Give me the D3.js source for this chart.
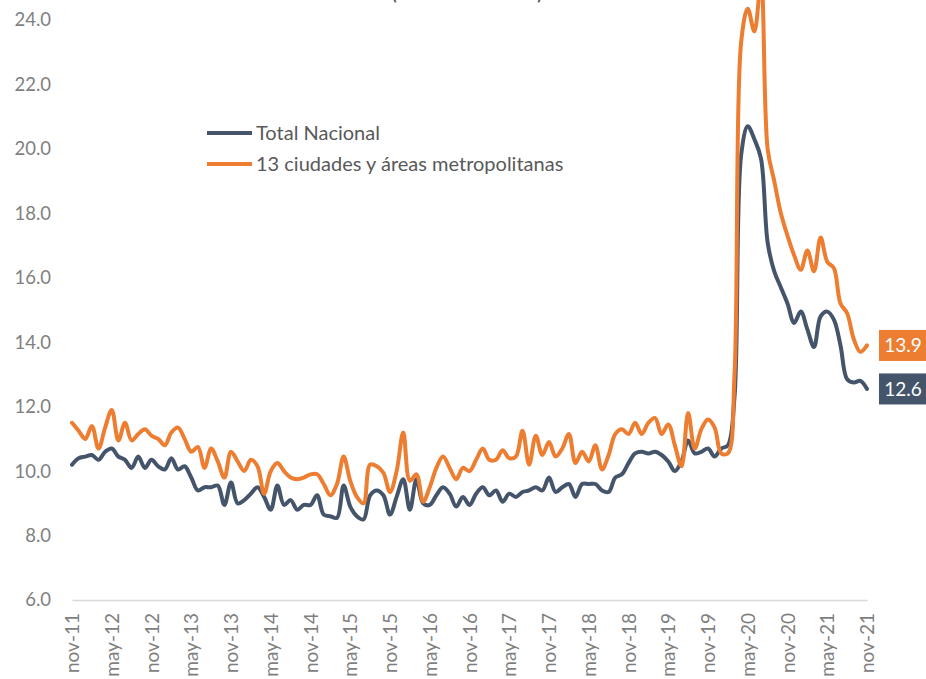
<!DOCTYPE html>
<html>
<head>
<meta charset="utf-8">
<script src="https://cdn.jsdelivr.net/npm/d3@7"></script>
<style>
  body { margin: 0; background: #fff; }
  svg { display: block; font-family: Lato, "Open Sans", sans-serif; }
</style>
</head>
<body>
<svg id="chart" width="926" height="679"></svg>
<script>
// months nov-11 .. nov-21, one label every 6 months
const tickLabels = ["nov-11","may-12","nov-12","may-13","nov-13","may-14","nov-14","may-15","nov-15","may-16",
  "nov-16","may-17","nov-17","may-18","nov-18","may-19","nov-19","may-20","nov-20","may-21","nov-21"];

const totalNacional = [
  10.2, 10.4, 10.45, 10.5, 10.35, 10.6, 10.7, 10.45, 10.35, 10.1,
  10.45, 10.1, 10.35, 10.15, 10.05, 10.4, 10.05, 10.15, 9.8, 9.4,
  9.5, 9.5, 9.55, 8.95, 9.65, 9.0, 9.1, 9.3, 9.5, 9.2,
  8.8, 9.55, 8.95, 9.1, 8.8, 8.95, 8.95, 9.25, 8.65, 8.6,
  8.55, 9.55, 8.9, 8.6, 8.5, 9.25, 9.4, 9.25, 8.65, 9.2,
  9.75, 8.8, 9.75, 9.0, 8.95, 9.25, 9.5, 9.3, 8.9, 9.2,
  8.95, 9.3, 9.5, 9.25, 9.4, 9.05, 9.3, 9.2, 9.35, 9.4,
  9.5, 9.4, 9.8, 9.35, 9.5, 9.6, 9.2, 9.6, 9.6, 9.6,
  9.4, 9.35, 9.8, 9.9, 10.25, 10.55, 10.6, 10.55, 10.6, 10.5,
  10.3, 10.0, 10.3, 10.95, 10.55, 10.6, 10.7, 10.45, 10.7, 10.8,
  12.3, 19.8, 20.7, 20.3, 19.7, 17.1, 16.2, 15.7, 15.2, 14.6,
  14.95, 14.4, 13.85, 14.8, 14.95, 14.7, 13.9, 12.85, 12.75, 12.8,
  12.55
];

const treceCiudades = [
  11.5, 11.25, 11.0, 11.4, 10.7, 11.35, 11.9, 10.95, 11.5, 10.95,
  11.15, 11.3, 11.1, 11.0, 10.8, 11.2, 11.35, 11.0, 10.6, 10.75,
  10.1, 10.7, 10.3, 9.8, 10.6, 10.3, 10.0, 10.35, 10.15, 9.3,
  10.0, 10.25, 10.0, 9.8, 9.75, 9.8, 9.9, 9.9, 9.6, 9.25,
  9.6, 10.45, 9.7, 9.2, 9.0, 10.2, 10.15, 9.95, 9.35, 10.0,
  11.2, 9.7, 9.9, 9.05, 9.5, 10.1, 10.45, 10.1, 9.75, 10.1,
  10.0, 10.35, 10.7, 10.35, 10.35, 10.65, 10.4, 10.45, 11.25, 10.2,
  11.1, 10.5, 10.9, 10.45, 10.7, 11.15, 10.25, 10.6, 10.3, 10.8,
  10.05, 10.5, 11.15, 11.3, 11.15, 11.5, 11.15, 11.5, 11.65, 11.15,
  11.45, 10.8, 10.15, 11.8, 10.7, 11.3, 11.6, 11.35, 10.55, 10.55,
  13.0, 23.3, 24.35, 23.65, 25.2, 20.0, 19.0, 18.0, 17.3, 16.7,
  16.25, 16.85, 16.2, 17.25, 16.5, 16.3, 15.2, 14.9, 14.1, 13.7,
  13.9
];

const seriesNames = ["Total Nacional", "13 ciudades y áreas metropolitanas"];
const seriesColors = ["#44546a", "#ed7d31"];
const yTicks = [6, 8, 10, 12, 14, 16, 18, 20, 22, 24];
const titleText = "(desestacionalizada)";

const svg = d3.select("#chart");

const x = d3.scaleLinear()
    .domain([0, totalNacional.length - 1])
    .range([72, 867]);

const y = d3.scaleLinear()
    .domain([6, 24])
    .range([600, 20]);

// title, mostly above the visible area (as in the original crop)
svg.append("text")
    .attr("x", 467)
    .attr("y", 0)
    .attr("text-anchor", "middle")
    .attr("font-size", 17)
    .attr("font-weight", "bold")
    .attr("fill", "#595959")
    .text(titleText);

// y axis (labels only)
const yAxis = svg.append("g")
    .attr("transform", "translate(72,0)")
    .call(d3.axisLeft(y).tickValues(yTicks).tickFormat(d3.format(".1f")).tickSize(0).tickPadding(21));
yAxis.select(".domain").remove();
yAxis.selectAll("text")
    .attr("font-family", "Lato, sans-serif")
    .attr("font-size", 18.5)
    .attr("fill", "#7f7f7f");

// x axis
const xAxis = svg.append("g")
    .attr("transform", "translate(0,600)")
    .call(d3.axisBottom(x)
        .tickValues(d3.range(0, totalNacional.length, 6))
        .tickFormat((d, i) => tickLabels[i])
        .tickSize(0)
        .tickSizeOuter(0));
xAxis.select(".domain")
    .attr("stroke", "#d9d9d9")
    .attr("stroke-width", 1.3);
xAxis.selectAll("text")
    .attr("font-family", "Lato, sans-serif")
    .attr("font-size", 19)
    .attr("fill", "#7f7f7f")
    .attr("text-anchor", "end")
    .attr("transform", "rotate(-90)")
    .attr("x", -13)
    .attr("y", 0)
    .attr("dy", "0.35em");

const line = d3.line()
    .x((d, i) => x(i))
    .y(d => y(d))
    .curve(d3.curveCatmullRom.alpha(0.5));

const allSeries = [totalNacional, treceCiudades];

svg.selectAll(".serie")
    .data(allSeries)
    .join("path")
    .attr("class", "serie")
    .attr("d", line)
    .attr("fill", "none")
    .attr("stroke", (d, i) => seriesColors[i])
    .attr("stroke-width", 4)
    .attr("stroke-linejoin", "round")
    .attr("stroke-linecap", "round");

// legend
const legend = svg.append("g");
seriesNames.forEach((name, i) => {
    const ly = 133 + i * 31;
    legend.append("line")
        .attr("x1", 207).attr("x2", 252)
        .attr("y1", ly).attr("y2", ly)
        .attr("stroke", seriesColors[i])
        .attr("stroke-width", 4);
    legend.append("text")
        .attr("x", 256)
        .attr("y", ly)
        .attr("dy", "0.35em")
        .attr("font-size", 20)
        .attr("fill", "#595959")
        .text(name);
});

// end-of-line value boxes
allSeries.forEach((s, i) => {
    const last = s.length - 1;
    const bx = x(last) + 12;
    const by = y(s[last]);
    svg.append("rect")
        .attr("x", bx)
        .attr("y", by - 15.5)
        .attr("width", 50)
        .attr("height", 31)
        .attr("fill", seriesColors[i]);
    svg.append("text")
        .attr("x", bx + 24)
        .attr("y", by)
        .attr("dy", "0.35em")
        .attr("text-anchor", "middle")
        .attr("font-size", 19)
        .attr("fill", "#fff")
        .text(d3.format(".1f")(s[last]));
});
</script>
</body>
</html>
